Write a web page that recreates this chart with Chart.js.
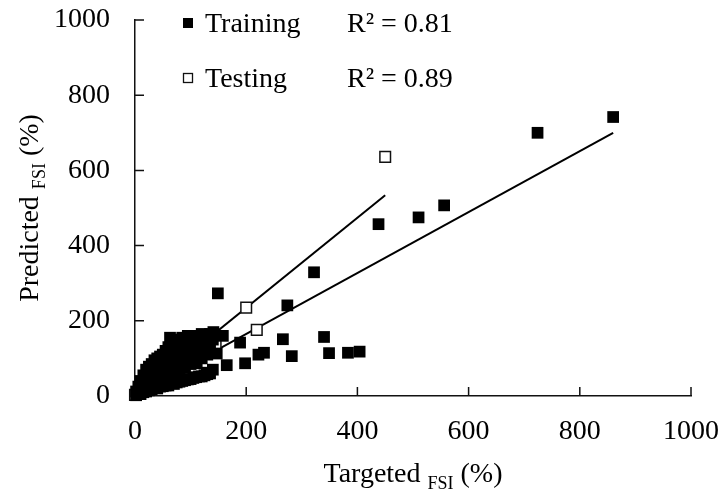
<!DOCTYPE html>
<html lang="en">
<head>
  <meta charset="UTF-8" />
  <title>Predicted vs Targeted FSI</title>
  <script src="https://cdn.jsdelivr.net/npm/chart.js"></script>
  <style>
    html, body { margin: 0; padding: 0; background: #fff; }
    #wrap { width: 721px; height: 491px; }
  </style>
</head>
<body>
  <div id="wrap"><canvas id="chart"></canvas></div>
  <script>
    // axis ticks
    const xTicks = [0, 200, 400, 600, 800, 1000];
    const yTicks = [0, 200, 400, 600, 800, 1000];

    // training points (filled squares)
    const trainX = [
      2, 2, 6, 6, 10, 10, 10, 15, 15, 15, 20, 20, 20, 25, 25, 25, 25, 30, 30, 30,
      35, 35, 35, 40, 40, 40, 40, 45, 45, 45, 50, 50, 50, 50, 55, 55, 55, 55,
      60, 60, 60, 60, 65, 65, 65, 65, 70, 70, 70, 70, 75, 75, 75, 75,
      80, 80, 80, 80, 85, 85, 85, 85, 90, 90, 90, 90, 95, 95, 95, 95,
      100, 100, 100, 100, 105, 105, 105, 110, 110, 110, 110, 115, 115, 115,
      120, 120, 120, 120, 125, 125, 125, 130, 130, 130, 135, 135, 135, 140, 140,
      63, 98, 111, 129, 141, 147, 149, 158, 165, 189, 198, 222, 232,
      266, 274, 282, 322, 340, 349, 383, 404, 438, 510, 556, 724, 860
    ];
    const trainY = [
      2, 12, 8, 25, 5, 18, 40, 10, 30, 55, 12, 40, 70, 15, 35, 60, 78, 18, 45, 85,
      22, 55, 95, 20, 40, 70, 100, 25, 60, 105, 26, 50, 80, 110, 28, 65, 95, 120,
      28, 55, 85, 130, 34, 75, 110, 140, 32, 60, 95, 145, 36, 80, 120, 150,
      38, 70, 105, 140, 40, 90, 125, 155, 42, 75, 115, 150, 44, 100, 135, 160,
      45, 85, 120, 155, 48, 110, 145, 50, 95, 130, 160, 52, 115, 150,
      52, 100, 140, 165, 55, 125, 160, 58, 110, 150, 60, 135, 165, 70, 150,
      155, 149, 87, 62, 170, 113, 273, 160, 82, 142, 87, 110, 115,
      151, 241, 106, 329, 157, 114, 115, 118, 457, 475, 507, 700, 742
    ];

    // testing points (hollow squares)
    const testX = [0, 30, 60, 90, 115, 145, 200, 219, 450];
    const testY = [3, 40, 75, 110, 120, 140, 235, 176, 636];

    // linear fits, end points
    const trainFitX = [0, 860];
    const trainFitY = [3, 700];
    const testFitX = [5, 450];
    const testFitY = [1, 534];

    const legendRows = [
      { label: 'Training', r2: 'R\u00B2 = 0.81', filled: true },
      { label: 'Testing', r2: 'R\u00B2 = 0.89', filled: false }
    ];

    const serif = '"Liberation Serif", "Times New Roman", serif';
    const toPts = (xs, ys) => xs.map((x, i) => ({ x: x, y: ys[i] }));

    // inward tick marks, axis titles with subscripts, and the legend block
    const decor = {
      id: 'decor',
      afterDatasetsDraw(chart) {
        const ctx = chart.ctx;
        const xs = chart.scales.x, ys = chart.scales.y;
        const a = chart.chartArea;
        ctx.save();
        ctx.strokeStyle = '#111';
        ctx.lineWidth = 1.5;
        ctx.beginPath();
        xTicks.slice(1).forEach(v => {
          const px = xs.getPixelForValue(v);
          ctx.moveTo(px, a.bottom);
          ctx.lineTo(px, a.bottom - 9);
        });
        yTicks.slice(1).forEach(v => {
          const py = ys.getPixelForValue(v);
          ctx.moveTo(a.left, py);
          ctx.lineTo(a.left + 9, py);
        });
        ctx.stroke();

        // legend
        ctx.fillStyle = '#000';
        ctx.textBaseline = 'alphabetic';
        ctx.textAlign = 'left';
        ctx.font = '28px ' + serif;
        const rowBase = [32, 87];
        legendRows.forEach((r, i) => {
          const cy = rowBase[i] - 9;
          if (r.filled) {
            ctx.fillStyle = '#000';
            ctx.fillRect(183, cy - 5, 10, 10);
          } else {
            ctx.fillStyle = '#fff';
            ctx.fillRect(183, cy - 5, 10, 10);
            ctx.lineWidth = 1.3;
            ctx.strokeRect(183.5, cy - 4.5, 9, 9);
          }
          ctx.fillStyle = '#000';
          ctx.fillText(r.label, 205, rowBase[i]);
          ctx.fillText(r.r2, 347, rowBase[i]);
        });

        // axis titles
        const drawTitle = (main, sub, tail, cx, base) => {
          ctx.font = '28px ' + serif;
          const w1 = ctx.measureText(main).width;
          const w3 = ctx.measureText(tail).width;
          ctx.font = '18px ' + serif;
          const w2 = ctx.measureText(sub).width;
          let x = cx - (w1 + w2 + w3) / 2;
          ctx.font = '28px ' + serif;
          ctx.fillText(main, x, base);
          x += w1;
          ctx.font = '18px ' + serif;
          ctx.fillText(sub, x, base + 7);
          x += w2;
          ctx.font = '28px ' + serif;
          ctx.fillText(tail, x, base);
        };
        drawTitle('Targeted ', 'FSI', ' (%)', (a.left + a.right) / 2, 482);
        ctx.translate(38, (a.top + a.bottom) / 2);
        ctx.rotate(-Math.PI / 2);
        drawTitle('Predicted ', 'FSI', ' (%)', 0, 0);
        ctx.restore();
      }
    };

    const plain = v => String(v);

    new Chart(document.getElementById('chart'), {
      type: 'scatter',
      data: {
        datasets: [
          {
            label: 'Training',
            data: toPts(trainX, trainY),
            pointStyle: 'rect',
            pointRadius: 8.3,
            pointBackgroundColor: '#000',
            pointBorderColor: '#000',
            pointBorderWidth: 0,
            clip: false,
            order: 1
          },
          {
            label: 'Testing',
            data: toPts(testX, testY),
            pointStyle: 'rect',
            pointRadius: 7.5,
            pointBackgroundColor: '#fff',
            pointBorderColor: '#111',
            pointBorderWidth: 1.5,
            clip: false,
            order: 2
          },
          {
            label: 'Training fit',
            data: toPts(trainFitX, trainFitY),
            showLine: true,
            borderColor: '#000',
            borderWidth: 2,
            pointRadius: 0,
            order: 3
          },
          {
            label: 'Testing fit',
            data: toPts(testFitX, testFitY),
            showLine: true,
            borderColor: '#000',
            borderWidth: 2,
            pointRadius: 0,
            order: 3
          }
        ]
      },
      options: {
        responsive: true,
        maintainAspectRatio: false,
        animation: false,
        layout: { padding: { left: 0, right: 30, top: 20, bottom: 0 } },
        plugins: { legend: { display: false }, tooltip: { enabled: false } },
        scales: {
          x: {
            type: 'linear',
            min: 0, max: 1000,
            afterFit: s => { s.height = 95; s.paddingLeft = 0; s.paddingRight = 0; },
            afterBuildTicks: s => { s.ticks = xTicks.map(v => ({ value: v })); },
            grid: { display: false, drawTicks: false },
            border: { display: true, color: '#111', width: 1.5 },
            ticks: { color: '#000', padding: 19, maxRotation: 0, callback: plain, font: { family: serif, size: 28 } }
          },
          y: {
            type: 'linear',
            min: 0, max: 1000,
            afterFit: s => { s.width = 135; s.paddingTop = 0; s.paddingBottom = 0; },
            afterBuildTicks: s => { s.ticks = yTicks.map(v => ({ value: v })); },
            grid: { display: false, drawTicks: false },
            border: { display: true, color: '#111', width: 1.5 },
            ticks: { color: '#000', padding: 25, callback: plain, font: { family: serif, size: 28 } }
          }
        }
      },
      plugins: [decor]
    });
  </script>
</body>
</html>
